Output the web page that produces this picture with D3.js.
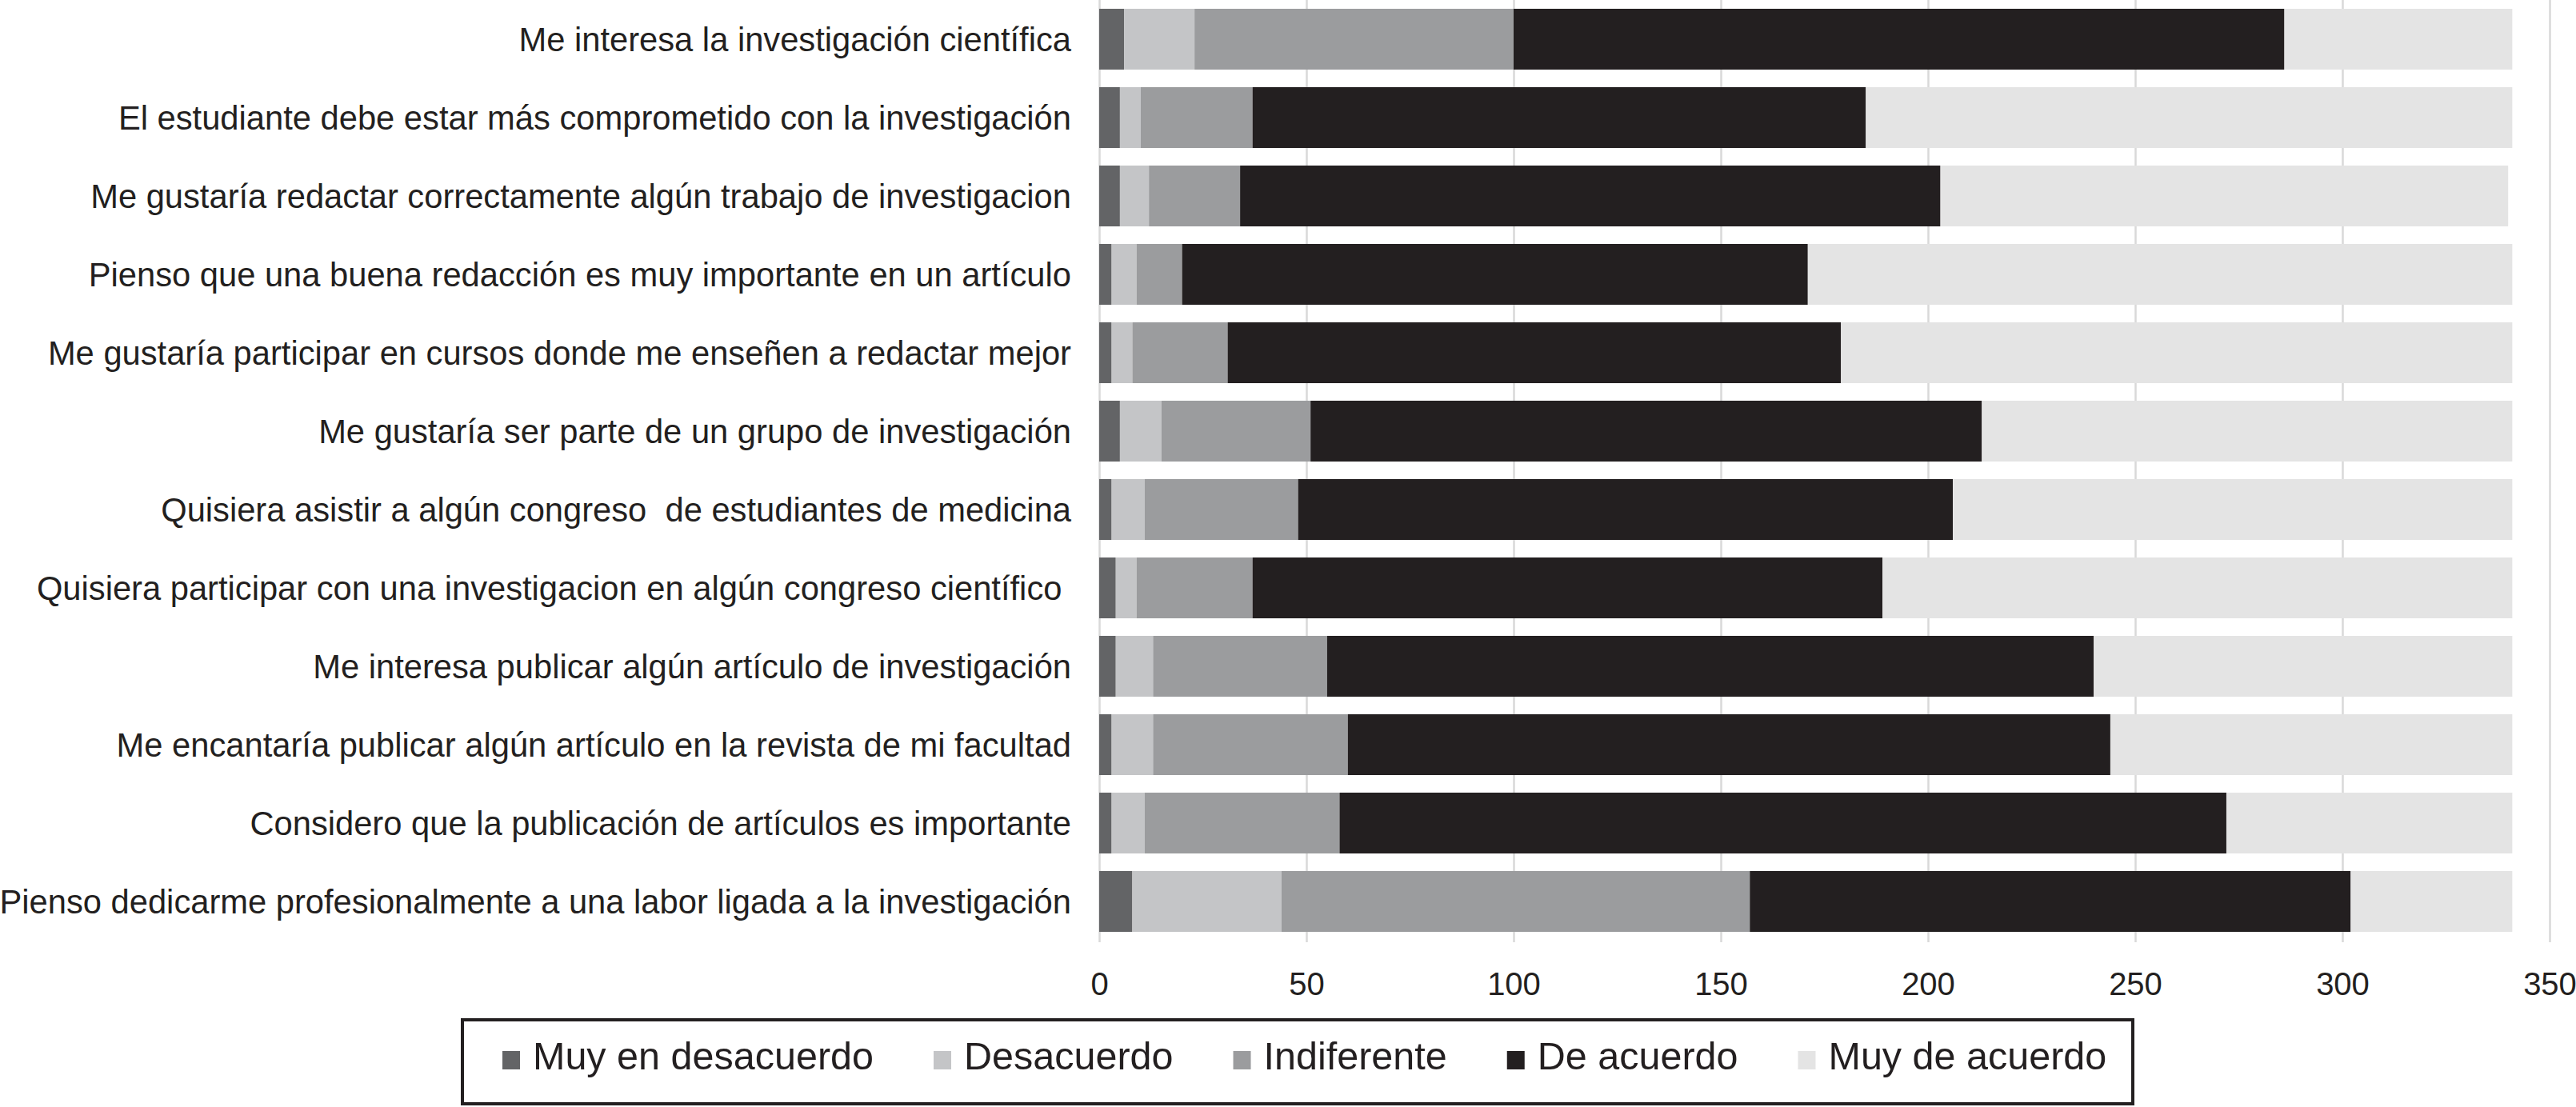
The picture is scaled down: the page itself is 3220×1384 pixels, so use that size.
<!DOCTYPE html>
<html>
<head>
<meta charset="utf-8">
<script src="https://cdn.jsdelivr.net/npm/d3@7"></script>
<style>
  body { margin: 0; background: #fff; }
  text { font-family: "Liberation Sans", Arial, Helvetica, sans-serif; fill: #231f20; }
</style>
</head>
<body>
<div id="chart"></div>
<script>
var categories = [
  "Me interesa la investigación científica",
  "El estudiante debe estar más comprometido con la investigación",
  "Me gustaría redactar correctamente algún trabajo de investigacion",
  "Pienso que una buena redacción es muy importante en un artículo",
  "Me gustaría participar en cursos donde me enseñen a redactar mejor",
  "Me gustaría ser parte de un grupo de investigación",
  "Quisiera asistir a algún congreso  de estudiantes de medicina",
  "Quisiera participar con una investigacion en algún congreso científico ",
  "Me interesa publicar algún artículo de investigación",
  "Me encantaría publicar algún artículo en la revista de mi facultad",
  "Considero que la publicación de artículos es importante",
  "Pienso dedicarme profesionalmente a una labor ligada a la investigación"
];

var seriesNames = ["Muy en desacuerdo", "Desacuerdo", "Indiferente", "De acuerdo", "Muy de acuerdo"];

var muyDesacuerdo = [6, 5, 5, 3, 3, 5, 3, 4, 4, 3, 3, 8];
var desacuerdo    = [17, 5, 7, 6, 5, 10, 8, 5, 9, 10, 8, 36];
var indiferente   = [77, 27, 22, 11, 23, 36, 37, 28, 42, 47, 47, 113];
var deAcuerdo     = [186, 148, 169, 151, 148, 162, 158, 152, 185, 184, 214, 145];
var muyAcuerdo    = [55, 156, 137, 170, 162, 128, 135, 152, 101, 97, 69, 39];

var xTicks = [0, 50, 100, 150, 200, 250, 300, 350];

var colors = ["#636466", "#c4c5c7", "#9b9c9e", "#231f20", "#e4e4e4"];

var width = 3220, height = 1384;
var plotTop = 0, plotBottom = 1178;

// table for the stack
var table = categories.map(function(c, i) {
  return {
    cat: c,
    "Muy en desacuerdo": muyDesacuerdo[i],
    "Desacuerdo": desacuerdo[i],
    "Indiferente": indiferente[i],
    "De acuerdo": deAcuerdo[i],
    "Muy de acuerdo": muyAcuerdo[i]
  };
});

var svg = d3.select("#chart").append("svg")
  .attr("width", width)
  .attr("height", height);

var x = d3.scaleLinear().domain([0, 350]).range([1374, 3187]);
var y = d3.scaleBand().domain(categories).range([0, 1176])
  .paddingInner(0.224).paddingOuter(0.112);

var color = d3.scaleOrdinal().domain(seriesNames).range(colors);

// grid + x axis
var xAxis = d3.axisBottom(x).tickValues(xTicks).tickSize(-(plotBottom - plotTop))
  .tickSizeOuter(0).tickPadding(38);

var gx = svg.append("g")
  .attr("class", "x axis")
  .attr("transform", "translate(0," + plotBottom + ")")
  .call(xAxis);
gx.select(".domain").remove();
gx.selectAll(".tick line").attr("stroke", "#d9d9d9").attr("stroke-width", 2.5);
gx.selectAll(".tick text").style("font-size", "40px").attr("fill", "#231f20");

// stacked bars
var stack = d3.stack().keys(seriesNames);
var layers = stack(table);

svg.append("g").selectAll("g")
  .data(layers)
  .enter().append("g")
  .attr("fill", function(d) { return color(d.key); })
  .selectAll("rect")
  .data(function(d) { return d; })
  .enter().append("rect")
  .attr("x", function(d) { return x(d[0]); })
  .attr("width", function(d) { return x(d[1]) - x(d[0]); })
  .attr("y", function(d) { return y(d.data.cat); })
  .attr("height", y.bandwidth());

// category labels
svg.append("g").selectAll("text")
  .data(categories)
  .enter().append("text")
  .attr("x", 1339)
  .attr("y", function(d) { return y(d) + y.bandwidth() / 2; })
  .attr("dy", "0.35em")
  .attr("text-anchor", "end")
  .style("font-size", "41.7px")
  .style("white-space", "pre")
  .attr("xml:space", "preserve")
  .text(function(d) { return d; });

// legend
var legend = svg.append("g").attr("class", "legend");
legend.append("rect")
  .attr("x", 578).attr("y", 1275)
  .attr("width", 2088).attr("height", 105)
  .attr("fill", "none")
  .attr("stroke", "#231f20")
  .attr("stroke-width", 4);

var lx = 628;
seriesNames.forEach(function(name) {
  legend.append("rect")
    .attr("x", lx).attr("y", 1314)
    .attr("width", 22).attr("height", 23)
    .attr("fill", color(name));
  var t = legend.append("text")
    .attr("x", lx + 38).attr("y", 1337)
    .style("font-size", "48.5px")
    .text(name);
  lx = lx + 38 + t.node().getComputedTextLength() + 75;
});
</script>
</body>
</html>
